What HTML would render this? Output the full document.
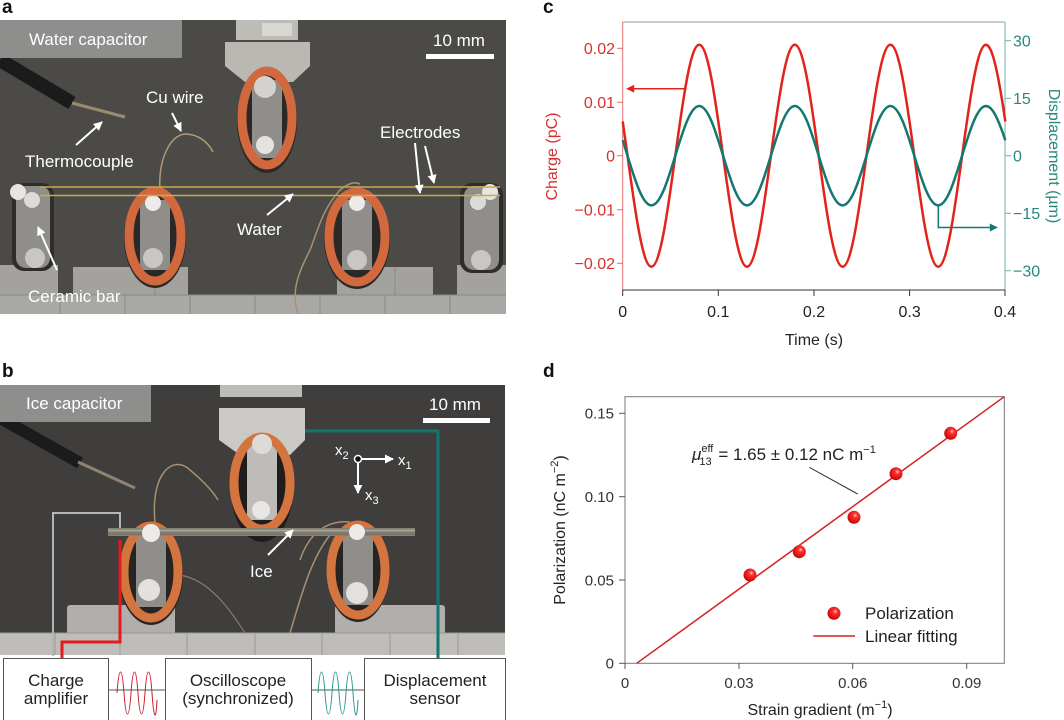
<!DOCTYPE html>
<html><head><meta charset="utf-8">
<style>
html,body{margin:0;padding:0;background:#fff;}
svg{display:block;font-family:"Liberation Sans",sans-serif;}
</style></head>
<body>
<svg width="1064" height="720" viewBox="0 0 1064 720" xmlns="http://www.w3.org/2000/svg">
<defs>
<marker id="aw" viewBox="0 0 10 10" refX="9" refY="5" markerWidth="9" markerHeight="9" markerUnits="userSpaceOnUse" orient="auto"><path d="M0,0 L10,5 L0,10 z" fill="#fff"/></marker>
<marker id="ar" viewBox="0 0 10 10" refX="9" refY="5" markerWidth="9" markerHeight="8" markerUnits="userSpaceOnUse" orient="auto"><path d="M0,0 L10,5 L0,10 z" fill="#e2231a"/></marker>
<marker id="at" viewBox="0 0 10 10" refX="9" refY="5" markerWidth="9" markerHeight="8" markerUnits="userSpaceOnUse" orient="auto"><path d="M0,0 L10,5 L0,10 z" fill="#13786f"/></marker>
<radialGradient id="sph" cx="0.6" cy="0.35" r="0.7">
<stop offset="0" stop-color="#ffd0d0"/><stop offset="0.25" stop-color="#ff3030"/><stop offset="0.8" stop-color="#d80c0c"/><stop offset="1" stop-color="#a00000"/>
</radialGradient>
</defs>

<!-- ============ PANEL A ============ -->
<text x="2" y="13" font-size="19" font-weight="bold" fill="#111">a</text>
<rect x="0" y="20" width="506" height="294" fill="#4b4a47"/>
<rect x="0" y="265" width="58" height="30" fill="#a3a29f"/>
<rect x="73" y="267" width="115" height="28" fill="#a3a29f"/>
<rect x="337" y="267" width="96" height="28" fill="#a3a29f"/>
<rect x="457" y="265" width="49" height="30" fill="#a3a29f"/>
<rect x="0" y="295" width="506" height="19" fill="#a9a8a5"/>
<g stroke="#8a8986" stroke-width="1">
<line x1="0" y1="295" x2="506" y2="295"/>
<line x1="60" y1="295" x2="60" y2="314"/><line x1="125" y1="295" x2="125" y2="314"/><line x1="190" y1="295" x2="190" y2="314"/><line x1="255" y1="295" x2="255" y2="314"/><line x1="320" y1="295" x2="320" y2="314"/><line x1="385" y1="295" x2="385" y2="314"/><line x1="450" y1="295" x2="450" y2="314"/>
<line x1="155" y1="267" x2="155" y2="295"/><line x1="395" y1="267" x2="395" y2="295"/>
</g>
<path d="M0,60 L72,103" stroke="#1b1b1b" stroke-width="14"/>
<path d="M72,103 L125,117" stroke="#9c8a6e" stroke-width="3"/>
<path d="M160,190 C158,160 170,135 185,134 C198,134 208,142 213,152" stroke="#b09a78" stroke-width="1.5" fill="none"/>
<path d="M298,314 C290,290 300,270 310,250 C318,230 322,210 340,190 C350,182 355,182 360,184" stroke="#a89070" stroke-width="1.5" fill="none"/>
<rect x="12" y="183" width="42" height="88" rx="12" fill="#2e2d2b"/>
<rect x="16" y="186" width="34" height="82" rx="10" fill="#8f8e8a"/>
<circle cx="18" cy="192" r="8" fill="#e6e5e2"/><circle cx="32" cy="200" r="8" fill="#dcdbd8"/>
<circle cx="35" cy="258" r="10" fill="#c8c7c3"/>
<rect x="460" y="183" width="43" height="90" rx="12" fill="#2e2d2b"/>
<rect x="464" y="186" width="35" height="84" rx="10" fill="#8f8e8a"/>
<circle cx="490" cy="192" r="8" fill="#e6e5e2"/><circle cx="478" cy="202" r="8" fill="#dcdbd8"/>
<circle cx="481" cy="260" r="10" fill="#c8c7c3"/>
<rect x="236" y="20" width="62" height="20" fill="#bdbcb7"/>
<rect x="262" y="23" width="30" height="13" fill="#d8d7d2"/>
<polygon points="225,42 310,42 310,66 293,82 245,82 225,66" fill="#b9b8b3"/>
<ellipse cx="267" cy="121" rx="30" ry="52" fill="#2a2928"/>
<rect x="252" y="80" width="30" height="78" fill="#8f8e8a"/>
<ellipse cx="267" cy="118" rx="25" ry="47" fill="none" stroke="#d2693e" stroke-width="9"/>
<circle cx="265" cy="87" r="11" fill="#d4d3cf"/>
<circle cx="265" cy="145" r="9" fill="#e4e3df"/>
<ellipse cx="155" cy="238" rx="31" ry="50" fill="#2a2928"/>
<rect x="140" y="200" width="30" height="70" fill="#8f8e8a"/>
<ellipse cx="155" cy="236" rx="26" ry="45" fill="none" stroke="#d2693e" stroke-width="9"/>
<circle cx="153" cy="203" r="8" fill="#ecebe8"/>
<circle cx="153" cy="258" r="10" fill="#c8c7c3"/>
<ellipse cx="357" cy="239" rx="33" ry="50" fill="#2a2928"/>
<rect x="342" y="200" width="30" height="70" fill="#8f8e8a"/>
<ellipse cx="357" cy="237" rx="28" ry="45" fill="none" stroke="#d2693e" stroke-width="9"/>
<circle cx="357" cy="203" r="8" fill="#ecebe8"/>
<circle cx="357" cy="260" r="10" fill="#c8c7c3"/>
<line x1="40" y1="187" x2="500" y2="187" stroke="#c9a94a" stroke-width="1.6"/>
<line x1="40" y1="195.5" x2="500" y2="195.5" stroke="#c9a94a" stroke-width="1.6"/>
<rect x="0" y="20" width="182" height="38" fill="#8e8e8d"/>
<text x="29" y="45" font-size="17" fill="#fff">Water capacitor</text>
<text x="433" y="46" font-size="17" fill="#fff">10 mm</text>
<rect x="426" y="54" width="68" height="5" fill="#fff"/>
<g font-size="17" fill="#fff">
<text x="25" y="167">Thermocouple</text>
<text x="146" y="103">Cu wire</text>
<text x="380" y="138">Electrodes</text>
<text x="237" y="235">Water</text>
<text x="28" y="302">Ceramic bar</text>
</g>
<g stroke="#fff" stroke-width="2" marker-end="url(#aw)">
<line x1="76" y1="145" x2="102" y2="122"/>
<line x1="172" y1="113" x2="181" y2="131"/>
<line x1="415" y1="143" x2="420" y2="193"/>
<line x1="425" y1="146" x2="434" y2="183"/>
<line x1="267" y1="215" x2="293" y2="194"/>
<line x1="57" y1="270" x2="38" y2="227"/>
</g>

<!-- ============ PANEL B ============ -->
<text x="2" y="377" font-size="19" font-weight="bold" fill="#111">b</text>
<rect x="0" y="385" width="505" height="270" fill="#3f3e3c"/>
<rect x="67" y="605" width="108" height="30" rx="3" fill="#b0afac"/>
<rect x="335" y="605" width="110" height="30" rx="3" fill="#b0afac"/>
<rect x="0" y="633" width="505" height="22" fill="#bebdba"/>
<g stroke="#9a9996" stroke-width="1">
<line x1="0" y1="633" x2="505" y2="633"/>
<line x1="55" y1="633" x2="55" y2="655"/><line x1="120" y1="633" x2="120" y2="655"/><line x1="187" y1="633" x2="187" y2="655"/><line x1="255" y1="633" x2="255" y2="655"/><line x1="322" y1="633" x2="322" y2="655"/><line x1="390" y1="633" x2="390" y2="655"/><line x1="458" y1="633" x2="458" y2="655"/>
</g>
<path d="M0,418 L80,463" stroke="#1b1b1b" stroke-width="12"/>
<path d="M78,462 L135,488" stroke="#8f8270" stroke-width="3"/>
<path d="M155,523 C150,470 175,455 190,470 C200,478 212,490 218,500" stroke="#a89070" stroke-width="1.5" fill="none"/>
<path d="M300,560 C310,530 330,520 350,522" stroke="#a89070" stroke-width="1.5" fill="none"/>
<path d="M180,575 C210,580 230,610 245,633" stroke="#8c7c64" stroke-width="1.2" fill="none"/>
<path d="M290,633 C300,600 310,560 330,535" stroke="#a89070" stroke-width="1.5" fill="none"/>
<rect x="220" y="385" width="82" height="12" fill="#bdbcb7"/>
<polygon points="219,408 305,408 305,440 290,455 240,455 219,440" fill="#cac9c5"/>
<ellipse cx="262" cy="490" rx="31" ry="52" fill="#1f1e1d"/>
<rect x="247" y="445" width="30" height="75" fill="#bdbcb8"/>
<ellipse cx="262" cy="483" rx="28" ry="46" fill="none" stroke="#d4743f" stroke-width="9"/>
<circle cx="262" cy="444" r="10" fill="#dcdbd7"/>
<circle cx="261" cy="510" r="9" fill="#e8e7e3"/>
<ellipse cx="151" cy="574" rx="32" ry="51" fill="#262523"/>
<rect x="136" y="535" width="30" height="72" fill="#8f8e8a"/>
<ellipse cx="151" cy="572" rx="27" ry="46" fill="none" stroke="#d4743f" stroke-width="9"/>
<circle cx="149" cy="590" r="11" fill="#e2e1de"/>
<ellipse cx="358" cy="572" rx="31" ry="50" fill="#262523"/>
<rect x="343" y="535" width="30" height="70" fill="#8f8e8a"/>
<ellipse cx="358" cy="570" rx="27" ry="45" fill="none" stroke="#d4743f" stroke-width="9"/>
<circle cx="357" cy="593" r="11" fill="#e2e1de"/>
<rect x="108" y="528" width="307" height="8" fill="#858175"/>
<line x1="108" y1="530.5" x2="415" y2="530.5" stroke="#aaa698" stroke-width="1.5"/>
<line x1="108" y1="534" x2="415" y2="534" stroke="#6e6b62" stroke-width="1"/>
<circle cx="151" cy="533" r="9" fill="#ecebe8"/>
<circle cx="357" cy="532" r="8" fill="#ecebe8"/>
<rect x="0" y="385" width="151" height="37" fill="#8e8e8d"/>
<text x="26" y="409" font-size="17" fill="#fff">Ice capacitor</text>
<text x="429" y="410" font-size="17" fill="#fff">10 mm</text>
<rect x="423" y="418" width="67" height="5" fill="#fff"/>
<path d="M53,656 V513 H120 V528" fill="none" stroke="#b5b5b5" stroke-width="2"/>
<path d="M62,658 V642 H120 V540" fill="none" stroke="#e41a1c" stroke-width="3"/>
<path d="M305,431 H438 V658" fill="none" stroke="#13766e" stroke-width="3"/>
<g stroke="#fff" stroke-width="2">
<line x1="362" y1="459" x2="393" y2="459" marker-end="url(#aw)"/>
<line x1="358" y1="463" x2="358" y2="493" marker-end="url(#aw)"/>
</g>
<circle cx="358" cy="459" r="3.5" fill="#111" stroke="#fff" stroke-width="1.5"/>
<g font-size="15" fill="#fff">
<text x="335" y="455">x<tspan font-size="11" dy="4">2</tspan></text>
<text x="398" y="465">x<tspan font-size="11" dy="4">1</tspan></text>
<text x="365" y="500">x<tspan font-size="11" dy="4">3</tspan></text>
</g>
<text x="250" y="577" font-size="17" fill="#fff">Ice</text>
<line x1="268" y1="555" x2="293" y2="530" stroke="#fff" stroke-width="2" marker-end="url(#aw)"/>
<g fill="#fff" stroke="#555" stroke-width="1">
<rect x="3.5" y="658.5" width="105" height="62"/>
<rect x="165.5" y="658.5" width="146" height="62"/>
<rect x="364.5" y="658.5" width="141" height="62"/>
</g>
<g stroke="#555" stroke-width="1">
<line x1="108" y1="690" x2="165" y2="690"/>
<line x1="311" y1="690" x2="364" y2="690"/>
</g>
<path d="M117,693 C119,665 122,665 124,693 C126,721 129,721 131,693 C133,665 136,665 138,693 C140,721 143,721 145,693 C147,665 150,665 152,693 C154,721 156,721 157,700" fill="none" stroke="#c8202a" stroke-width="1"/>
<path d="M318,693 C320,665 323,665 325,693 C327,721 330,721 332,693 C334,665 337,665 339,693 C341,721 344,721 346,693 C348,665 351,665 353,693 C355,721 357,721 358,700" fill="none" stroke="#2a9a90" stroke-width="1"/>
<g font-size="17" fill="#222" text-anchor="middle">
<text x="56" y="686">Charge</text><text x="56" y="704">amplifier</text>
<text x="238" y="686">Oscilloscope</text><text x="238" y="704">(synchronized)</text>
<text x="435" y="686">Displacement</text><text x="435" y="704">sensor</text>
</g>

<!-- ============ PANEL C ============ -->
<text x="543" y="13" font-size="19" font-weight="bold" fill="#111">c</text>
<line x1="622.7" y1="22" x2="1005" y2="22" stroke="#9a9a9a" stroke-width="1"/>
<line x1="622.7" y1="22" x2="622.7" y2="290" stroke="#e07070" stroke-width="1"/>
<line x1="1005" y1="22" x2="1005" y2="290" stroke="#6fb0a8" stroke-width="1"/>
<line x1="622.7" y1="290" x2="1005" y2="290" stroke="#333" stroke-width="1"/>
<g stroke="#e07070" stroke-width="1">
<line x1="617" y1="48.3" x2="622.7" y2="48.3"/><line x1="617" y1="102.3" x2="622.7" y2="102.3"/><line x1="617" y1="155.7" x2="622.7" y2="155.7"/><line x1="617" y1="209.7" x2="622.7" y2="209.7"/><line x1="617" y1="263.3" x2="622.7" y2="263.3"/>
</g>
<g stroke="#6fb0a8" stroke-width="1">
<line x1="1005" y1="40.7" x2="1011" y2="40.7"/><line x1="1005" y1="98.3" x2="1011" y2="98.3"/><line x1="1005" y1="155.7" x2="1011" y2="155.7"/><line x1="1005" y1="213.3" x2="1011" y2="213.3"/><line x1="1005" y1="270.7" x2="1011" y2="270.7"/>
</g>
<g stroke="#333" stroke-width="1">
<line x1="622.7" y1="290" x2="622.7" y2="296"/><line x1="718.3" y1="290" x2="718.3" y2="296"/><line x1="814" y1="290" x2="814" y2="296"/><line x1="909.6" y1="290" x2="909.6" y2="296"/><line x1="1005" y1="290" x2="1005" y2="296"/>
</g>
<g font-size="16" fill="#d6312f" text-anchor="end">
<text x="615" y="54">0.02</text><text x="615" y="108">0.01</text><text x="615" y="161.5">0</text><text x="615" y="215.5">−0.01</text><text x="615" y="269">−0.02</text>
</g>
<g font-size="16" fill="#27887f">
<text x="1013" y="46.5">30</text><text x="1013" y="104">15</text><text x="1013" y="161.5">0</text><text x="1013" y="219">−15</text><text x="1013" y="276.5">−30</text>
</g>
<g font-size="16" fill="#222" text-anchor="middle">
<text x="622.7" y="317">0</text><text x="718.3" y="317">0.1</text><text x="814" y="317">0.2</text><text x="909.6" y="317">0.3</text><text x="1005" y="317">0.4</text>
<text x="814" y="345">Time (s)</text>
</g>
<text transform="translate(557,156.5) rotate(-90)" font-size="16" fill="#d6312f" text-anchor="middle">Charge (pC)</text>
<text transform="translate(1049,156) rotate(90)" font-size="16" fill="#27887f" text-anchor="middle">Displacement (µm)</text>
<path fill="none" stroke="#e2231a" stroke-width="2.5" stroke-linejoin="round" d="M622.7,121.4 L625.1,138.4 L627.5,155.7
C635.3,212.6 642.8,266.7 651.4,266.7
C660.1,266.7 667.5,212.6 675.3,155.7
C683.1,98.8 690.6,44.7 699.2,44.7
C707.9,44.7 715.3,98.8 723.1,155.7
C730.9,212.6 738.4,266.7 747.0,266.7
C755.7,266.7 763.1,212.6 770.9,155.7
C778.7,98.8 786.2,44.7 794.8,44.7
C803.5,44.7 810.9,98.8 818.7,155.7
C826.5,212.6 834.0,266.7 842.6,266.7
C851.3,266.7 858.7,212.6 866.5,155.7
C874.3,98.8 881.8,44.7 890.4,44.7
C899.1,44.7 906.5,98.8 914.3,155.7
C922.1,212.6 929.6,266.7 938.2,266.7
C946.9,266.7 954.3,212.6 962.1,155.7
C969.9,98.8 977.4,44.7 986.0,44.7
L988.4,46.0 L990.8,50.1 L993.2,56.8 L995.6,65.9 L998.0,77.2 L1000.4,90.4 L1002.9,105.3 L1005.3,121.4"/>
<path fill="none" stroke="#13786f" stroke-width="2.5" stroke-linejoin="round" d="M622.7,140.3 L625.1,148.0 L627.5,155.7
C635.3,181.2 642.8,205.4 651.4,205.4
C660.1,205.4 667.5,181.2 675.3,155.7
C683.1,130.2 690.6,106.0 699.2,106.0
C707.9,106.0 715.3,130.2 723.1,155.7
C730.9,181.2 738.4,205.4 747.0,205.4
C755.7,205.4 763.1,181.2 770.9,155.7
C778.7,130.2 786.2,106.0 794.8,106.0
C803.5,106.0 810.9,130.2 818.7,155.7
C826.5,181.2 834.0,205.4 842.6,205.4
C851.3,205.4 858.7,181.2 866.5,155.7
C874.3,130.2 881.8,106.0 890.4,106.0
C899.1,106.0 906.5,130.2 914.3,155.7
C922.1,181.2 929.6,205.4 938.2,205.4
C946.9,205.4 954.3,181.2 962.1,155.7
C969.9,130.2 977.4,106.0 986.0,106.0
L988.4,106.6 L990.8,108.4 L993.2,111.4 L995.6,115.5 L998.0,120.6 L1000.4,126.5 L1002.9,133.1 L1005.3,140.3"/>
<line x1="686" y1="88.7" x2="627" y2="88.7" stroke="#e2231a" stroke-width="1.5" marker-end="url(#ar)"/>
<path d="M938.3,206 V227.5 H997" fill="none" stroke="#13786f" stroke-width="1.5" marker-end="url(#at)"/>

<!-- ============ PANEL D ============ -->
<text x="543" y="377" font-size="19" font-weight="bold" fill="#111">d</text>
<rect x="625" y="396.7" width="379.3" height="266.6" fill="none" stroke="#777" stroke-width="1"/>
<g stroke="#555" stroke-width="1">
<line x1="619" y1="413.3" x2="625" y2="413.3"/><line x1="619" y1="496.7" x2="625" y2="496.7"/><line x1="619" y1="580" x2="625" y2="580"/><line x1="619" y1="663.3" x2="625" y2="663.3"/>
<line x1="625" y1="663.3" x2="625" y2="669"/><line x1="739" y1="663.3" x2="739" y2="669"/><line x1="852.7" y1="663.3" x2="852.7" y2="669"/><line x1="966.7" y1="663.3" x2="966.7" y2="669"/>
</g>
<g font-size="15" fill="#333" text-anchor="end">
<text x="614" y="418.5">0.15</text><text x="614" y="502">0.10</text><text x="614" y="585.3">0.05</text><text x="614" y="668.6">0</text>
</g>
<g font-size="15" fill="#333" text-anchor="middle">
<text x="625" y="688">0</text><text x="739" y="688">0.03</text><text x="852.7" y="688">0.06</text><text x="966.7" y="688">0.09</text>
</g>
<text x="820" y="715" font-size="16" fill="#222" text-anchor="middle">Strain gradient (m<tspan font-size="11" dy="-7">−1</tspan><tspan dy="7">)</tspan></text>
<text transform="translate(565,530) rotate(-90)" font-size="16" fill="#222" text-anchor="middle">Polarization (nC m<tspan font-size="11" dy="-7">−2</tspan><tspan dy="7">)</tspan></text>
<line x1="636.7" y1="663.3" x2="1004.3" y2="396.7" stroke="#d42020" stroke-width="1.5"/>
<g fill="url(#sph)">
<circle cx="750" cy="575" r="6.5"/><circle cx="799.3" cy="551.7" r="6.5"/><circle cx="854" cy="517.3" r="6.5"/><circle cx="896" cy="473.7" r="6.5"/><circle cx="950.7" cy="433.3" r="6.5"/>
<circle cx="834" cy="613.3" r="6.5"/>
</g>
<text x="692" y="460" font-size="17" fill="#222"><tspan font-style="italic">μ</tspan><tspan font-size="11" dy="-8">eff</tspan><tspan font-size="11" dx="-14" dy="13">13</tspan><tspan dx="2" dy="-5"> = 1.65 ± 0.12 nC m</tspan><tspan font-size="11" dy="-7">−1</tspan></text>
<line x1="809.3" y1="467.3" x2="857.7" y2="494" stroke="#333" stroke-width="1"/>
<line x1="813.3" y1="636" x2="855" y2="636" stroke="#d42020" stroke-width="1.5"/>
<g font-size="17" fill="#222">
<text x="865" y="619">Polarization</text>
<text x="865" y="642">Linear fitting</text>
</g>
</svg>
</body></html>
